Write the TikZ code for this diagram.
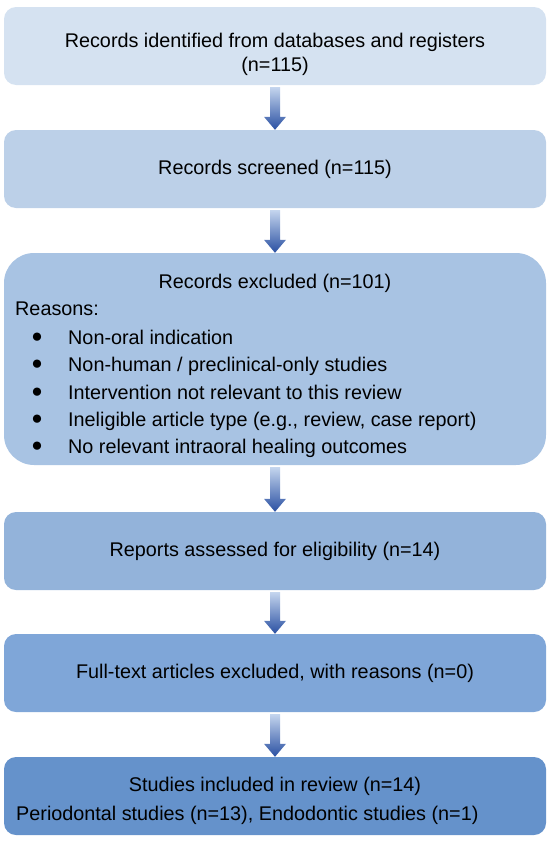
\documentclass[tikz,border=0pt]{standalone}
\usepackage{fontspec}
\setmainfont{Liberation Sans}
\usetikzlibrary{calc}
\definecolor{stepA}{RGB}{213,226,241}
\definecolor{stepB}{RGB}{188,208,232}
\definecolor{stepC}{RGB}{168,195,227}
\definecolor{stepD}{RGB}{147,179,218}
\definecolor{stepE}{RGB}{127,166,216}
\definecolor{stepF}{RGB}{101,146,203}
\definecolor{arrowtop}{RGB}{196,213,238}
\definecolor{arrowbot}{RGB}{42,80,162}
\newcommand{\flowarrow}[2]{%
  \shade[top color=arrowtop, bottom color=arrowbot]
    let \p1=(#1.south), \p2=(#2.north) in
    (\x1-5pt,\y1-2pt) -- (\x1+5pt,\y1-2pt) -- (\x1+5pt,\y2+13pt) -- (\x1+11pt,\y2+13pt)
    -- (\x1,\y2) -- (\x1-11pt,\y2+13pt) -- (\x1-5pt,\y2+13pt) -- cycle;}
\begin{document}
\begin{tikzpicture}[x=1pt, y=-1pt, every node/.style={font=\fontsize{19.8}{27.5}\selectfont, inner sep=0pt},
  stage/.style={rounded corners=12pt, minimum width=542pt, minimum height=78pt, align=center},
  item/.style={anchor=west, text height=14pt, text depth=4pt},
  dot/.style={font=\fontsize{19}{20}\selectfont}]
\useasboundingbox (0,0) rectangle (550,846);
\node[stage, fill=stepA] (ident) at (275,46) {};
\node (identhead) at (275,42) {Records identified from databases and registers};
\node (identn) at (275,66) {(n=115)};
\node[stage, fill=stepB] (screen) at (275,169) {Records screened (n=115)};
\node[stage, fill=stepC, rounded corners=30pt, minimum height=212pt] (excl) at (275,359) {};
\node (exclhead) at (275,283) {Records excluded (n=101)};
\node[item] (reasons) at (15,310) {Reasons:};
\node[dot] (dotA) at (37,338) {●};
\node[item] (reasonA) at (68,339) {Non-oral indication};
\node[dot] (dotB) at (37,365) {●};
\node[item] (reasonB) at (68,366) {Non-human / preclinical-only studies};
\node[dot] (dotC) at (37,393) {●};
\node[item] (reasonC) at (68,394) {Intervention not relevant to this review};
\node[dot] (dotD) at (37,420) {●};
\node[item] (reasonD) at (68,421) {Ineligible article type (e.g., review, case report)};
\node[dot] (dotE) at (37,447) {●};
\node[item] (reasonE) at (68,448) {No relevant intraoral healing outcomes};
\node[stage, fill=stepD] (assess) at (275,551) {Reports assessed for eligibility (n=14)};
\node[stage, fill=stepE] (fulltext) at (275,673) {Full-text articles excluded, with reasons (n=0)};
\node[stage, fill=stepF] (incl) at (275,796) {};
\node (inclhead) at (275,786) {Studies included in review (n=14)};
\node[item] (inclsplit) at (16,815) {Periodontal studies (n=13), Endodontic studies (n=1)};
\flowarrow{ident}{screen}
\flowarrow{screen}{excl}
\flowarrow{excl}{assess}
\flowarrow{assess}{fulltext}
\flowarrow{fulltext}{incl}
\end{tikzpicture}
\end{document}
